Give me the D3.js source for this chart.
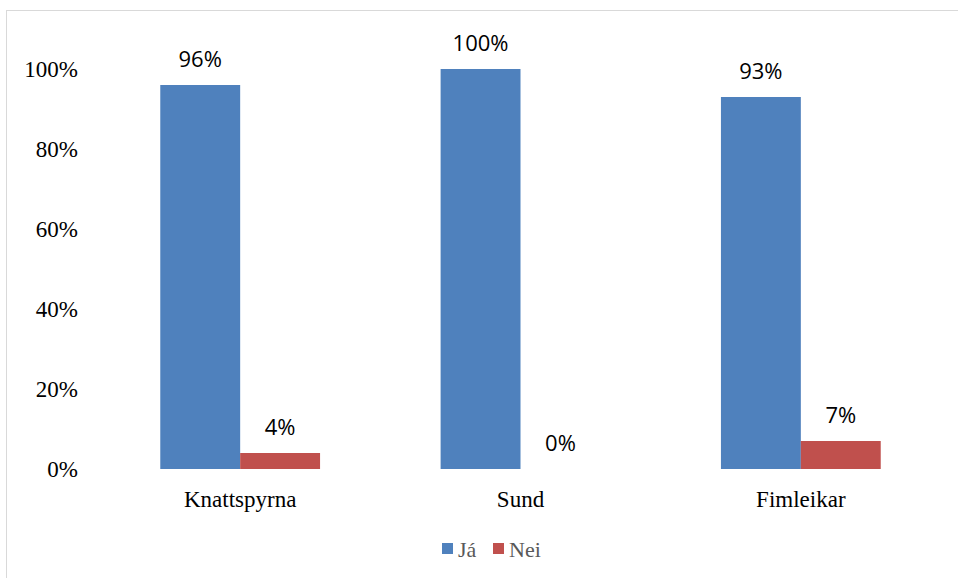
<!DOCTYPE html>
<html>
<head>
<meta charset="utf-8">
<script src="https://cdn.jsdelivr.net/npm/d3@7"></script>
<style>
  html, body { margin: 0; padding: 0; background: #fff; }
  svg { display: block; }
  .serif text, text.serif { font-family: "Liberation Serif", "Times New Roman", serif; }
  .sans { font-family: "Open Sans", "Liberation Sans", sans-serif; }
</style>
</head>
<body>
<svg id="chart" width="958" height="578"></svg>
<script>
// Survey answers per sport (share of respondents)
const categories = ["Knattspyrna", "Sund", "Fimleikar"];
const seriesNames = ["Já", "Nei"];
const jaValues = [0.96, 1.00, 0.93];
const neiValues = [0.04, 0.00, 0.07];
const yTicks = [0, 0.2, 0.4, 0.6, 0.8, 1.0];
const colors = ["#4f81bd", "#c0504d"];

const rows = categories.map((c, i) => ({ cat: c, values: [jaValues[i], neiValues[i]] }));
const pct = d3.format(".0%");

const svg = d3.select("#chart");

// chart frame
svg.append("rect")
  .attr("x", 6.5).attr("y", 10.5)
  .attr("width", 960).attr("height", 580)
  .attr("fill", "none").attr("stroke", "#d9d9d9").attr("stroke-width", 1);

const x0 = d3.scaleBand().domain(categories).range([100, 941])
  .paddingInner(0.43).paddingOuter(0.215);
const x1 = d3.scaleBand().domain(seriesNames).range([0, x0.bandwidth()]);
const y = d3.scaleLinear().domain([0, 1]).range([469, 69]);

// y axis labels
const yAxis = d3.axisLeft(y).tickValues(yTicks).tickFormat(pct).tickSize(0).tickPadding(0);
const yg = svg.append("g").attr("class", "serif").attr("transform", "translate(78,0)").call(yAxis);
yg.attr("font-family", null);
yg.select(".domain").remove();
yg.selectAll("text")
  .style("font-family", "'Liberation Serif', 'Times New Roman', serif")
  .style("font-size", "23px").attr("fill", "#000").attr("dy", "0.34em");

// bars
const groups = svg.append("g").selectAll("g").data(rows).join("g")
  .attr("transform", d => `translate(${x0(d.cat)},0)`);

const cells = d => d.values.map((v, i) => ({ v, s: seriesNames[i], i }));

groups.selectAll("rect").data(cells)
  .join("rect")
  .attr("x", d => x1(d.s))
  .attr("y", d => y(d.v))
  .attr("width", x1.bandwidth())
  .attr("height", d => y(0) - y(d.v))
  .attr("fill", d => colors[d.i]);

// value labels
groups.selectAll("text").data(cells)
  .join("text")
  .attr("class", "sans")
  .attr("x", d => x1(d.s) + x1.bandwidth() / 2)
  .attr("y", d => y(d.v) - 18)
  .attr("text-anchor", "middle")
  .style("font-size", "22px").attr("fill", "#000")
  .text(d => pct(d.v));

// category axis labels
const xAxis = d3.axisBottom(x0).tickSize(0).tickPadding(0);
const xg = svg.append("g").attr("class", "serif").attr("transform", "translate(0,507)").call(xAxis);
xg.attr("font-family", null);
xg.select(".domain").remove();
xg.selectAll("text")
  .style("font-family", "'Liberation Serif', 'Times New Roman', serif")
  .style("font-size", "23px").attr("fill", "#000").attr("dy", 0);

// legend
const legend = svg.append("g").attr("transform", "translate(442,543)");
const legendX = [0, 51];
seriesNames.forEach((name, i) => {
  const g = legend.append("g").attr("transform", `translate(${legendX[i]},0)`);
  g.append("rect").attr("width", 11).attr("height", 11).attr("fill", colors[i]);
  g.append("text").attr("class", "serif").attr("x", 16).attr("y", 14)
    .style("font-size", "22px").attr("fill", "#595959").text(name);
});
</script>
</body>
</html>
